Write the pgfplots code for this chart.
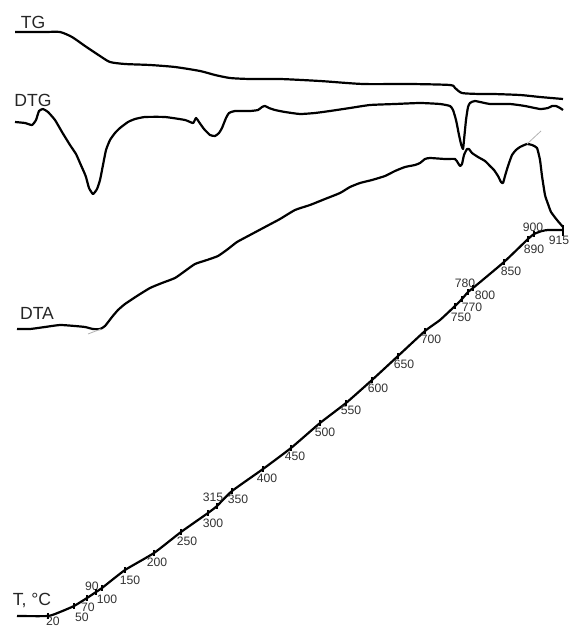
\documentclass[border=0pt]{standalone}
\usepackage{fontspec}
\setmainfont{Liberation Sans}
\usepackage{pgfplots}
\pgfplotsset{compat=1.18}
\begin{document}
\begin{tikzpicture}
\useasboundingbox (0,0) rectangle (285.5pt,313pt);
\begin{axis}[
  at={(0,0)}, anchor=south west,
  scale only axis, width=285.5pt, height=313pt,
  xmin=0, xmax=571, ymin=0, ymax=626, y dir=reverse,
  hide axis, clip=false,
  every axis plot/.append style={line width=1.1pt, black, line join=round},
]
% TG
\addplot[smooth, tension=0.4] coordinates {
(15,32)(45,32)(60,32)(72,37)(85,46)(100,56)(110,62)(125,64)(150,65)(175,67)(200,71)(215,75)(230,78)(250,79)(280,79)
(320,81)(363,84)(410,84)(450,85)(455,88)(462,93)(480,94)(493,94)(520,95)(540,97)(563,99)};
% DTG
\addplot[smooth, tension=0.3] coordinates {
(15,122)(25,123)(32,125)(36,120)(39,111)(43,109)(48,112)(55,120)(62,132)(70,145)(76,154)(80,163)(84,172)(86,177)(89,188)(93,194)
(97,189)(100,180)(103,165)(106,150)(110,140)(115,133)(120,128)(128,122)(135,119)(145,117)(165,117)(185,120)(193,123)(196,118)
(199,122)(204,129)(210,135)(215,136)(219,133)(222,128)(226,118)(229,113)(235,111)(250,111)(258,110)(262,107)(265,106)(269,108)(275,110)
(285,112)(300,114)(315,113)(330,111)(350,108)(370,105)(395,104)(420,103)(440,104)(450,106)(453,110)(456,120)(459,135)(461,144)(463,149)(464,140)
(466,120)(468,107)(470,103)(475,101)(490,104)(510,104)(525,106)(540,109)(548,108)(552,106)(556,106)(560,108)(563,110)};
% DTA
\addplot[smooth, tension=0.3] coordinates {
(17,329)(30,329)(45,327)(60,325)(75,326)(85,327)(93,329)(100,329)(105,326)(112,317)(118,310)(125,304)(137,296)(150,288)(162,283)
(175,278)(185,271)(195,264)(207,260)(218,256)(228,249)(237,242)(250,235)(265,227)(280,219)(295,210)(310,205)(325,199)(340,193)
(350,187)(360,183)(372,180)(385,176)(395,171)(405,167)(415,165)(420,163)(425,159)(430,158)(445,159)(455,159)(458,163)(460,166)(462,164)
(464,155)(467,149)(469,149)(472,153)(478,157)(485,161)(490,166)(494,170)(498,176)(501,182)(503,183)(505,176)(508,166)(512,155)
(516,150)(520,147)(527,144)(532,145)(537,148)(540,160)(542,176)(545,195)(548,204)(551,212)(557,220)(563,227)};
% thin grey tangents
\addplot[line width=0.4pt, gray!60] coordinates {(527,144)(541,131)};
\addplot[line width=0.4pt, gray!60] coordinates {(88,334)(101,329)};
% T curve
\addplot[smooth, tension=0.3] coordinates {
(17,616)(48,616)(60,612)(74,606)(87,598)(96,592)(102,588)(125,570)(154,553)(181,532)(208,513)(217,506)(232,491)(263,469)(291,448)
(320,423)(346,403)(372,380)(398,356)(425,331)(440,320)(455,306)(462,299)(468,292)(473,288)(504,262)(528,239)(534,234)(542,231)(548,230)(563,230)};
\addplot[line width=1pt] coordinates {(563,225)(563,236)};
% tick marks on T curve
\addplot[only marks, mark=|, mark size=1.6pt, mark options={line width=0.9pt}] coordinates {
(48,616)(74,606)(87,598)(96,592)(102,588)(125,570)(154,553)(181,532)(208,513)(217,506)(232,491)(263,469)(291,448)
(320,423)(346,403)(372,380)(398,356)(425,331)(455,306)(462,299)(468,292)(473,288)(504,262)(528,239)(534,234)};
% labels
\begin{scope}[every node/.style={font=\fontsize{6.1}{7}\selectfont, text=black!80, inner sep=0pt}]
\node at (axis cs:53,621) {20};
\node at (axis cs:82,617) {50};
\node at (axis cs:88,607) {70};
\node at (axis cs:92,586) {90};
\node at (axis cs:107,599) {100};
\node at (axis cs:130,580) {150};
\node at (axis cs:157,562) {200};
\node at (axis cs:187,541) {250};
\node at (axis cs:213,523) {300};
\node at (axis cs:213,497) {315};
\node at (axis cs:238,499) {350};
\node at (axis cs:267,478) {400};
\node at (axis cs:295,456) {450};
\node at (axis cs:325,432) {500};
\node at (axis cs:351,410) {550};
\node at (axis cs:378,388) {600};
\node at (axis cs:404,364) {650};
\node at (axis cs:431,339) {700};
\node at (axis cs:461,317) {750};
\node at (axis cs:472,307) {770};
\node at (axis cs:465,283) {780};
\node at (axis cs:485,295) {800};
\node at (axis cs:511,271) {850};
\node at (axis cs:534,249) {890};
\node at (axis cs:533,227) {900};
\node at (axis cs:559,240) {915};
\end{scope}
\begin{scope}[every node/.style={font=\fontsize{8.8}{9}\selectfont, text=black!85, inner sep=0pt}]
\node at (axis cs:33,22) {TG};
\node at (axis cs:33,100) {DTG};
\node at (axis cs:37,313) {DTA};
\node at (axis cs:32,600) {T, °C};
\end{scope}
\end{axis}
\end{tikzpicture}
\end{document}
